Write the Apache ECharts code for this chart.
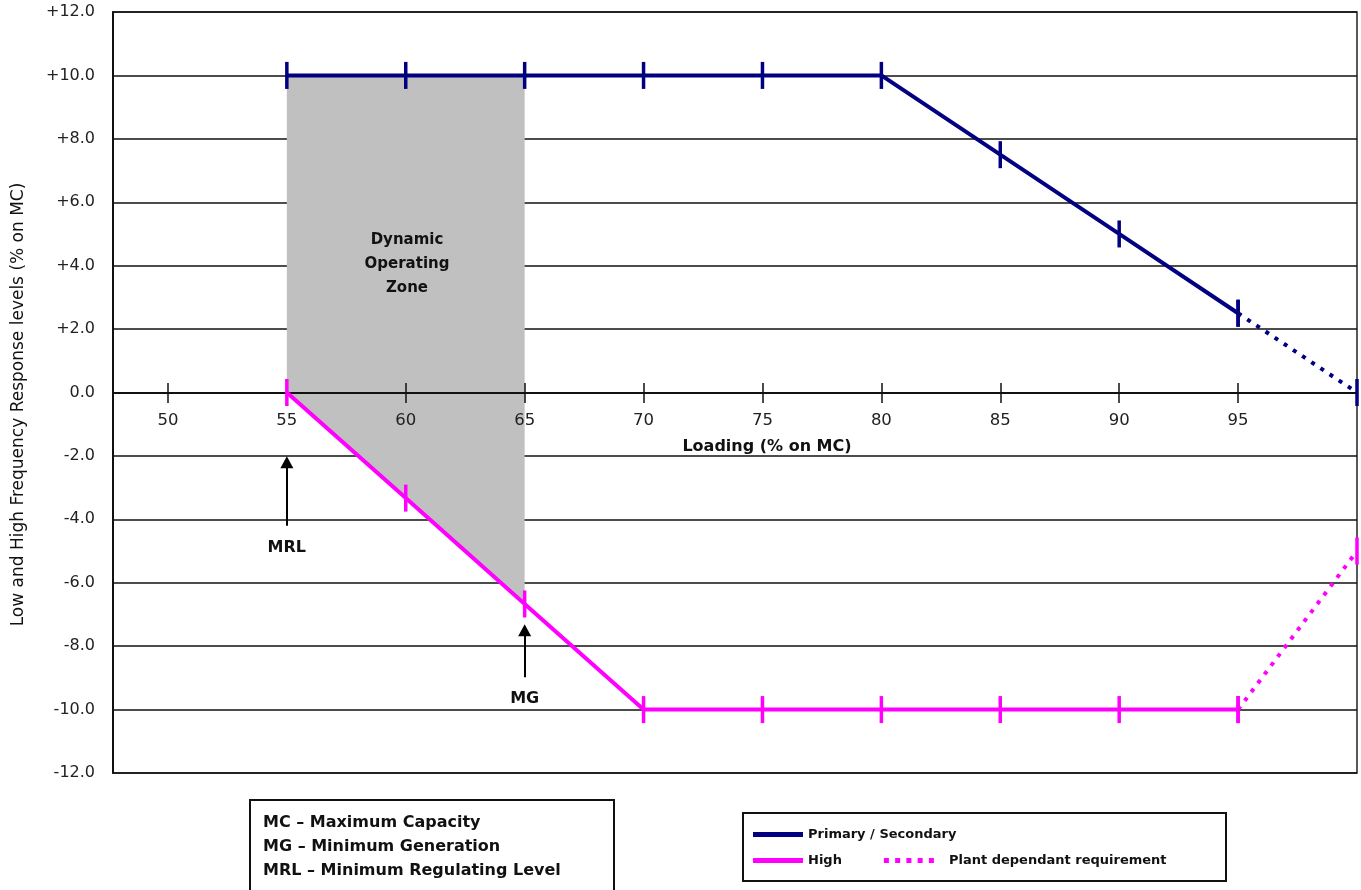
<!DOCTYPE html>
<html>
<head>
<meta charset="utf-8">
<script src="https://cdn.jsdelivr.net/npm/echarts@6/dist/echarts.min.js"></script>
<style>
html,body{margin:0;padding:0;background:#fff;}
#chart{width:1361px;height:890px;}
</style>
</head>
<body>
<div id="chart"></div>
<script>
// ---- data ----
const xTickValues = [50, 55, 60, 65, 70, 75, 80, 85, 90, 95];
const loading = [55, 60, 65, 70, 75, 80, 85, 90, 95];
const primary = [10, 10, 10, 10, 10, 10, 7.5, 5, 2.5];
const high = [0, -3.33, -6.67, -10, -10, -10, -10, -10, -10];
const dottedX = [95, 100];
const primaryDotted = [2.5, 0];
const highDotted = [-10, -5];
const zoneX = [55, 65, 65, 55];
const zoneY = [10, 10, -6.67, 0];
const arrowX = [55, 65];
const arrowFrom = [-4.2, -8.98];
const arrowTo = [-2.2, -7.5];
const arrowLabels = ['MRL', 'MG'];
const zoneLabel = 'Dynamic\nOperating\nZone';
const glossary = ['MC – Maximum Capacity', 'MG – Minimum Generation', 'MRL – Minimum Regulating Level'];
const seriesNames = ['Primary / Secondary', 'High', 'Plant dependant requirement'];

const NAVY = '#000080', MAG = '#FF00FF';
const FONT = '"DejaVu Sans", sans-serif';
const zip = (xs, ys) => xs.map((x, i) => [x, ys[i]]);

const chart = echarts.init(document.getElementById('chart'), null, {renderer: 'canvas'});

const tickMark = {symbol: 'rect', symbolSize: [3.5, 27], showAllSymbol: true};
const X_MIN = 47.69, X_MAX = 100;

const option = {
  animation: false,
  backgroundColor: '#fff',
  textStyle: {fontFamily: FONT},
  grid: [
    // main plot area
    {left: 113, top: 12, right: 4, height: 761, show: true, borderColor: '#222', borderWidth: 1.5, backgroundColor: 'transparent'},
    // upper half: its bottom edge is the zero line, carries the loading axis
    {left: 113, top: 12, right: 4, height: 381, show: false}
  ],
  xAxis: [{
    gridIndex: 0, type: 'value', min: X_MIN, max: X_MAX, show: false
  }, {
    gridIndex: 1, type: 'value', min: X_MIN, max: X_MAX, position: 'bottom', z: 3,
    axisLine: {show: true, onZero: false, lineStyle: {color: '#111', width: 2}},
    axisTick: {show: true, length: 10, customValues: xTickValues, lineStyle: {color: '#111', width: 1.5}},
    axisLabel: {customValues: xTickValues, margin: 19, color: '#222', fontSize: 16.5, fontFamily: FONT},
    splitLine: {show: false},
    name: 'Loading (% on MC)', nameLocation: 'middle', nameGap: 46,
    nameTextStyle: {color: '#111', fontSize: 16, fontWeight: 'bold', fontFamily: FONT, padding: [0, 0, 0, 64]}
  }, {
    gridIndex: 1, type: 'value', min: X_MIN, max: X_MAX, position: 'bottom', offset: 0, z: 3,
    axisLine: {show: false, onZero: false},
    axisTick: {show: true, inside: true, length: 10, customValues: xTickValues, lineStyle: {color: '#111', width: 1.5}},
    axisLabel: {show: false},
    splitLine: {show: false}
  }],
  yAxis: [{
    gridIndex: 0, type: 'value', min: -12, max: 12, interval: 2,
    axisLine: {show: true, onZero: false, lineStyle: {color: '#111', width: 2}},
    axisTick: {show: false},
    axisLabel: {margin: 18, color: '#222', fontSize: 16, fontFamily: FONT,
      formatter: v => (v > 0 ? '+' : '') + v.toFixed(1)},
    splitLine: {show: true, lineStyle: {color: '#111', width: 1.5}},
    name: 'Low and High Frequency Response levels (% on MC)', nameLocation: 'middle', nameGap: 86,
    nameTextStyle: {color: '#111', fontSize: 17, fontFamily: FONT, padding: [0, 24, 0, 0]}
  }, {
    gridIndex: 1, type: 'value', min: 0, max: 12, show: false
  }],
  legend: [{
    left: 753, top: 828, padding: 0, itemWidth: 50, itemHeight: 5, itemGap: 42,
    textStyle: {fontSize: 13, fontWeight: 'bold', color: '#111', fontFamily: FONT},
    data: [{name: seriesNames[0], icon: 'rect', itemStyle: {color: NAVY}}],
    selectedMode: false
  }, {
    left: 753, top: 854, padding: 0, itemWidth: 50, itemHeight: 5, itemGap: 42,
    textStyle: {fontSize: 13, fontWeight: 'bold', color: '#111', fontFamily: FONT},
    data: [
      {name: seriesNames[1], icon: 'rect', itemStyle: {color: MAG}},
      {name: seriesNames[2], icon: 'path://M0,0h5v5h-5zM11.25,0h5v5h-5zM22.5,0h5v5h-5zM33.75,0h5v5h-5zM45,0h5v5h-5z',
        itemStyle: {color: MAG}, textStyle: {padding: [0, 0, 0, 10]}}
    ],
    selectedMode: false
  }],
  graphic: [
    {type: 'rect', shape: {x: 250, y: 800, width: 364, height: 110}, style: {fill: '#fff', stroke: '#111', lineWidth: 2}, z: 0},
    {type: 'text', left: 263, top: 811, style: {text: glossary.join('\n'), fill: '#111', font: 'bold 16px ' + FONT, lineHeight: 24}},
    {type: 'rect', shape: {x: 743, y: 813, width: 483, height: 68}, style: {fill: '#fff', stroke: '#111', lineWidth: 2}, z: 0},
    {type: 'text', x: 407, y: 264, style: {text: zoneLabel, fill: '#111', font: 'bold 15px ' + FONT, align: 'center', verticalAlign: 'middle', lineHeight: 24}, z: 10}
  ],
  series: [
    {
      type: 'custom', name: 'zone', z: 2, silent: true,
      data: [0],
      renderItem: (params, api) => ({
        type: 'polygon',
        shape: {points: zip(zoneX, zoneY).map(p => api.coord(p))},
        style: {fill: '#C0C0C0'}
      })
    },
    Object.assign({
      type: 'line', name: seriesNames[0], z: 5, color: NAVY,
      data: zip(loading, primary),
      lineStyle: {color: NAVY, width: 4},
      itemStyle: {color: NAVY}
    }, tickMark),
    Object.assign({
      type: 'line', name: 'Primary / Secondary (plant dependant)', z: 5, color: NAVY,
      data: zip(dottedX, primaryDotted),
      lineStyle: {color: NAVY, width: 4, type: [4, 7]},
      itemStyle: {color: NAVY}
    }, tickMark),
    Object.assign({
      type: 'line', name: seriesNames[1], z: 5, color: MAG,
      data: zip(loading, high),
      lineStyle: {color: MAG, width: 4},
      itemStyle: {color: MAG},
      markLine: {
        silent: true, symbol: ['none', 'triangle'], symbolSize: [13, 12],
        lineStyle: {color: '#000', width: 2, type: 'solid'},
        label: {show: true, position: 'start', color: '#111', fontSize: 16, fontWeight: 'bold', fontFamily: FONT, formatter: p => p.name, distance: 14},
        data: arrowX.map((x, i) => [
          {name: arrowLabels[i], coord: [x, arrowFrom[i]]},
          {coord: [x, arrowTo[i]]}
        ])
      }
    }, tickMark),
    Object.assign({
      type: 'line', name: seriesNames[2], z: 5, color: MAG,
      data: zip(dottedX, highDotted),
      lineStyle: {color: MAG, width: 4, type: [4, 7]},
      itemStyle: {color: MAG}
    }, tickMark)
  ]
};
chart.setOption(option);
</script>
</body>
</html>
